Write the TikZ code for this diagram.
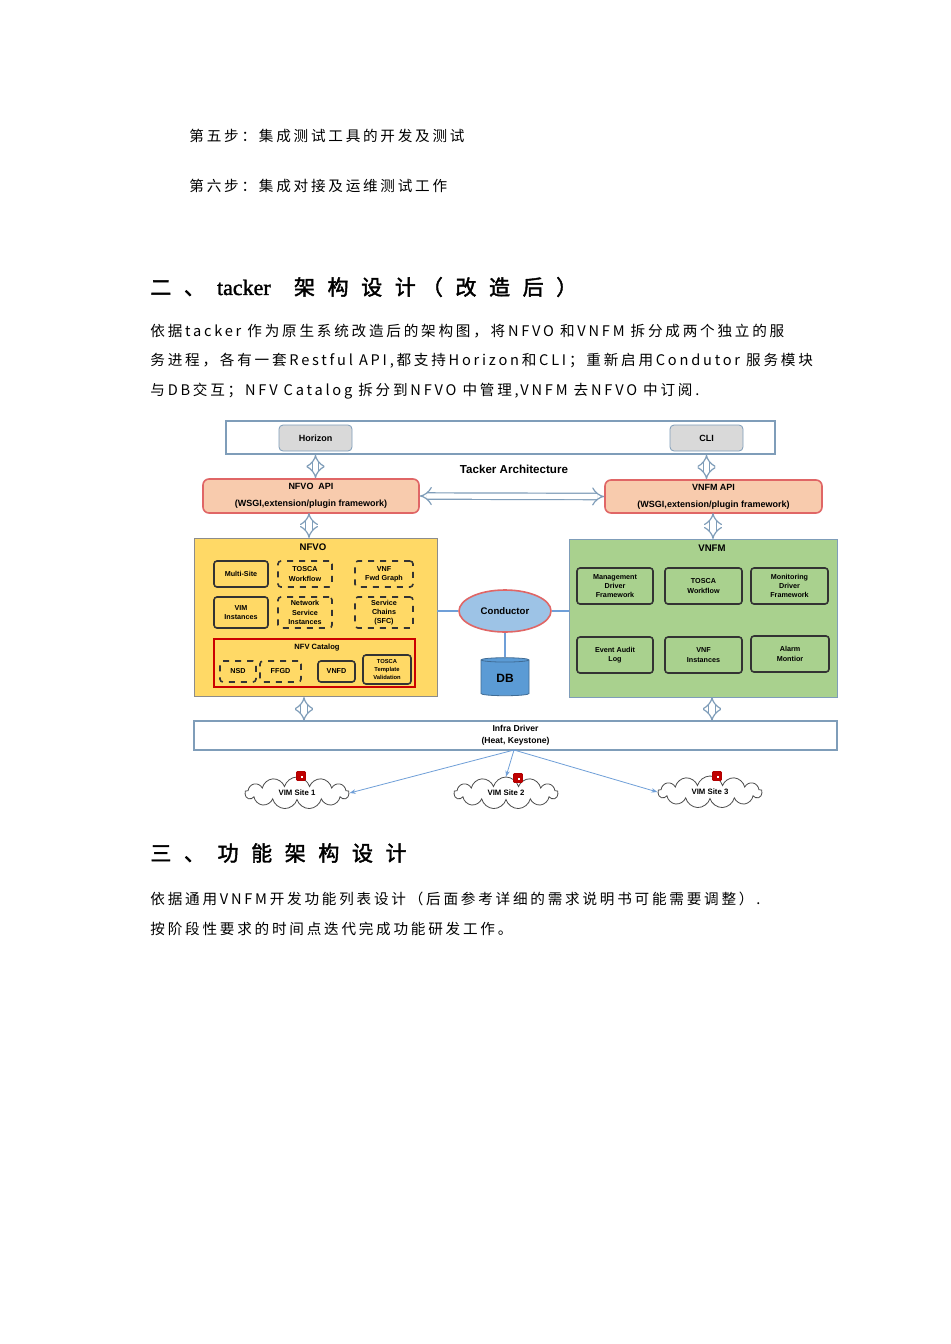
\documentclass[tikz,border=0pt]{standalone}
\usepackage{fontspec}
\setmainfont{Liberation Sans}
\newfontfamily\cjk{Noto Sans CJK SC}[LetterSpace=19]
\newfontfamily\cjkh{Noto Sans CJK SC}[LetterSpace=60,FakeBold=2]
\newfontfamily\lath{Liberation Serif}[FakeBold=1.5]
\usetikzlibrary{positioning,arrows.meta,shapes.geometric,shapes.symbols}
\definecolor{nfvofill}{HTML}{FFD966}
\definecolor{vnfmfill}{HTML}{A9D18E}
\definecolor{apifill}{HTML}{F8CBAD}
\definecolor{apiline}{HTML}{E06666}
\definecolor{condfill}{HTML}{9DC3E6}
\definecolor{dbfill}{HTML}{5B9BD5}
\definecolor{linkblue}{HTML}{6F9FD8}
\definecolor{frame}{HTML}{7F9DB9}
\tikzset{
  body/.style={anchor=west, inner sep=0pt, font=\cjk\fontsize{7.3pt}{9pt}\selectfont},
  head/.style={anchor=west, inner sep=0pt, font=\cjkh\fontsize{10.5pt}{12pt}\selectfont},
  lbl/.style={inner sep=0pt, font=\fontsize{3.6pt}{4.6pt}\selectfont\bfseries, align=center},
  sub/.style={draw=black!80, rounded corners=1.5pt, thick, lbl},
  dsub/.style={sub, dashed},
  dbl/.style={draw=frame, double=white, double distance=2.6pt, semithick, {Implies[length=2.5pt]}-{Implies[length=2.5pt]}},
}
\begin{document}
\begin{tikzpicture}[x=0.5pt, y=-0.5pt]
\useasboundingbox[fill=white] (0,0) rectangle (950,1344);
% body text
\node[body] (s5) at (189,136) {第五步：集成测试工具的开发及测试};
\node[body] (s6) at (189,186) {第六步：集成对接及运维测试工作};
\node[head] (h2) at (150,287) {二、\hspace{6pt}{\lath\fontsize{11pt}{12pt}\selectfont tacker}\hspace{3pt} 架构设计\hspace{3pt}（改造后）};
\node[body] (p1) at (150,331) {依据tacker 作为原生系统改造后的架构图，将NFVO 和VNFM 拆分成两个独立的服};
\node[body] (p2) at (150,361) {务进程，各有一套Restful API,都支持Horizon和CLI；重新启用Condutor 服务模块};
\node[body] (p3) at (150,391) {与DB交互；NFV Catalog 拆分到NFVO 中管理,VNFM 去NFVO 中订阅.};
\node[head] (h3) at (150,853) {三、功能架构设计};
\node[body] (q1) at (150,899) {依据通用VNFM开发功能列表设计（后面参考详细的需求说明书可能需要调整）.};
\node[body] (q2) at (150,929) {按阶段性要求的时间点迭代完成功能研发工作。};

% top layer
\node[draw=frame, thick, minimum width=274.5pt, minimum height=16.5pt] (ui) at (500.5,437.5) {};
\node[draw=frame, fill=black!15, rounded corners=2pt, minimum width=36.5pt, minimum height=13pt, lbl, font=\fontsize{4.5pt}{5pt}\selectfont\bfseries] (hz) at (315.5,438) {Horizon};
\node[draw=frame, fill=black!15, rounded corners=2pt, minimum width=36.5pt, minimum height=13pt, lbl, font=\fontsize{4.5pt}{5pt}\selectfont\bfseries] (cli) at (706.5,438) {CLI};
\node[lbl, font=\fontsize{5.8pt}{6pt}\selectfont\bfseries] (title) at (514,469) {Tacker Architecture};
\node[draw=apiline, fill=apifill, rounded corners=3pt, thick, minimum width=108pt, minimum height=17pt, lbl, font=\fontsize{4.5pt}{8.5pt}\selectfont\bfseries] (napi) at (311,496) {NFVO\ \ API\\(WSGI,extension/plugin framework)};
\node[draw=apiline, fill=apifill, rounded corners=3pt, thick, minimum width=108.5pt, minimum height=16.5pt, lbl, font=\fontsize{4.5pt}{8.5pt}\selectfont\bfseries] (vapi) at (713.5,496.5) {VNFM API\\(WSGI,extension/plugin framework)};

% NFVO
\node[draw=black!45, fill=nfvofill, minimum width=121.5pt, minimum height=79pt] (nfvo) at (315.5,617) {};
\node[lbl, font=\fontsize{4.8pt}{5pt}\selectfont\bfseries] at (313,547) {NFVO};
\node[sub, minimum width=27pt, minimum height=13pt] (ms) at (241,574) {Multi-Site};
\node[dsub, minimum width=27pt, minimum height=13pt] (tw) at (305,574) {TOSCA\\Workflow};
\node[dsub, minimum width=29pt, minimum height=13pt] (fg) at (384,574) {VNF\\Fwd Graph};
\node[sub, minimum width=27pt, minimum height=15.5pt] (vi) at (241,612.5) {VIM\\Instances};
\node[dsub, minimum width=27pt, minimum height=15.5pt] (ns) at (305,612.5) {Network\\Service\\Instances};
\node[dsub, minimum width=29pt, minimum height=15.5pt] (sc) at (384,612.5) {Service\\Chains\\(SFC)};
\node[draw=red!80!black, thick, minimum width=100.5pt, minimum height=24pt] (cat) at (314.5,663) {};
\node[lbl, font=\fontsize{3.8pt}{4pt}\selectfont\bfseries] at (317,648) {NFV Catalog};
\node[dsub, minimum width=18pt, minimum height=10.5pt] (nsd) at (238,671.5) {NSD};
\node[dsub, minimum width=20.5pt, minimum height=10.5pt] (ffgd) at (280.5,671.5) {FFGD};
\node[sub, minimum width=18.5pt, minimum height=10.5pt] (vnfd) at (336.5,671.5) {VNFD};
\node[sub, minimum width=24pt, minimum height=14.5pt, font=\fontsize{2.9pt}{3.8pt}\selectfont\bfseries] (ttv) at (387,669.5) {TOSCA\\Template\\Validation};

% VNFM
\node[draw=frame, fill=vnfmfill, minimum width=134pt, minimum height=79pt] (vnfm) at (703,618) {};
\node[lbl, font=\fontsize{4.8pt}{5pt}\selectfont\bfseries] at (712,548) {VNFM};
\node[sub, minimum width=38pt, minimum height=18pt] (mdf) at (615,586) {Management\\Driver\\Framework};
\node[sub, minimum width=38.5pt, minimum height=18pt] (vtw) at (703.5,586) {TOSCA\\Workflow};
\node[sub, minimum width=38.5pt, minimum height=18pt] (mon) at (789.5,586) {Monitoring\\Driver\\Framework};
\node[sub, minimum width=38pt, minimum height=18pt] (eal) at (615,655) {Event Audit\\Log};
\node[sub, minimum width=38.5pt, minimum height=18pt] (vin) at (703.5,655) {VNF\\Instances};
\node[sub, minimum width=39pt, minimum height=18pt] (alm) at (790,654) {Alarm\\Montior};

% conductor and db
\node[ellipse, draw=apiline, fill=condfill, thick, minimum width=46pt, minimum height=21pt, lbl, font=\fontsize{4.8pt}{5pt}\selectfont\bfseries] (cond) at (505,611) {Conductor};
\node[cylinder, shape border rotate=90, aspect=0.25, draw=dbfill!70!black, fill=dbfill, minimum width=24pt, minimum height=19pt, lbl, font=\fontsize{6pt}{6pt}\selectfont\bfseries] (db) at (505,678) {DB};
\draw[linkblue, thick] (nfvo.east |- cond) -- (cond.west);
\draw[linkblue, thick] (cond.east) -- (vnfm.west |- cond);
\draw[linkblue, thick] (cond.south) -- (db.top);

% infra
\node[draw=frame, thick, minimum width=321.5pt, minimum height=14.5pt, lbl, font=\fontsize{4.3pt}{6pt}\selectfont\bfseries] (infra) at (515.5,735.5) {Infra Driver\\(Heat, Keystone)};
\coordinate (src) at (514,750);
\foreach \n/\x/\y/\t/\ix/\iy in {v1/297/793/1/301/776, v2/506/793/2/518/778, v3/710/792/3/717/776}{
  \node[cloud, cloud puffs=13, aspect=3.4, draw=black!70, fill=white, minimum width=52pt, minimum height=16pt, lbl, font=\fontsize{3.9pt}{4pt}\selectfont\bfseries] (\n) at (\x,\y) {VIM Site \t};
  \node[draw=red!70!black, fill=red!75!black, minimum size=4.5pt, inner sep=0pt, rounded corners=0.5pt] (i\n) at (\ix,\iy) {};
  \fill[white] (i\n.center) rectangle +(1.5,1.5);
}
\draw[linkblue, -{Stealth[length=3pt]}] (src) -- (v1.east);
\draw[linkblue, -{Stealth[length=3pt]}] (src) -- (v2.north);
\draw[linkblue, -{Stealth[length=3pt]}] (src) -- (v3.west);

% double arrows
\draw[dbl] (hz.south |- ui.south) -- (hz.south |- napi.north);
\draw[dbl] (cli.south |- ui.south) -- (cli.south |- vapi.north);
\draw[dbl] (napi.east) -- (vapi.west);
\draw[dbl] (309,513) -- (309,538);
\draw[dbl] (713,513) -- (713,539);
\draw[dbl] (304,697) -- (304,721);
\draw[dbl] (712,697) -- (712,721);
\end{tikzpicture}
\end{document}
